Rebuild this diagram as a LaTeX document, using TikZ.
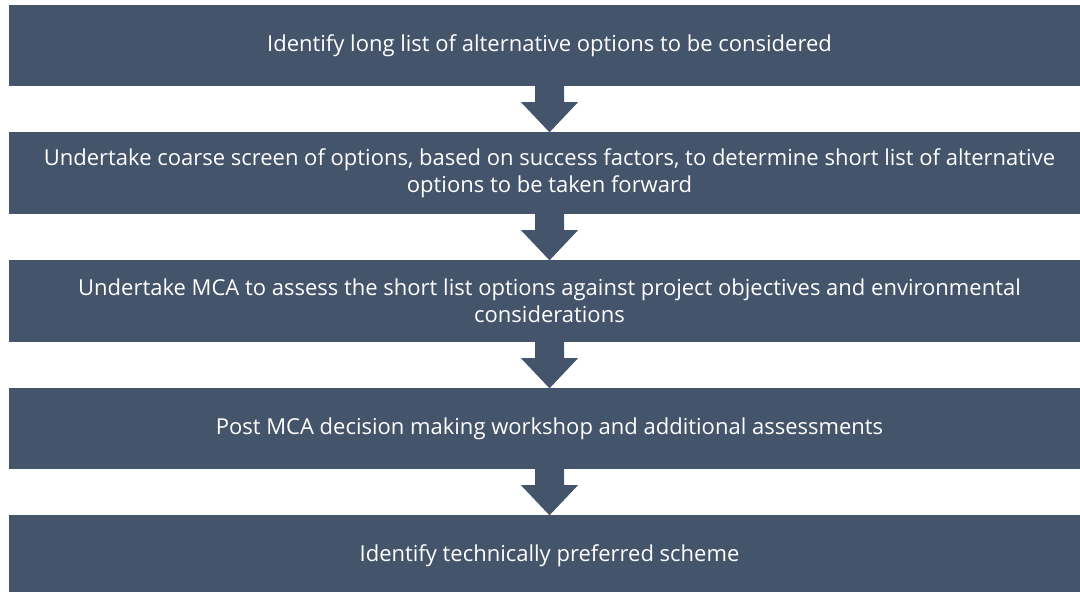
\documentclass[tikz,border=0pt]{standalone}
\usepackage{fontspec}
\setmainfont{Open Sans}
\usetikzlibrary{calc}
\definecolor{stepblue}{HTML}{44546A}
\tikzset{
  stepbox/.style={rectangle, fill=stepblue, text=white, minimum width=1081pt,
    minimum height=82pt, inner sep=0pt, align=center,
    font=\fontsize{22}{27}\selectfont},
  flowarrow/.style={fill=stepblue}
}
% block arrow from the bottom of one box to the top of the next
\newcommand\stepdownarrow[2]{%
  \fill[flowarrow] ($(#1.south)+(-14.5,-2)$) -- ($(#1.south)+(-14.5,16)$)
    -- ($(#1.south)+(-28.5,16)$) -- ($(#2.north)+(0,0.5)$)
    -- ($(#1.south)+(28.5,16)$) -- ($(#1.south)+(14.5,16)$)
    -- ($(#1.south)+(14.5,-2)$) -- cycle;}
\begin{document}
\begin{tikzpicture}[x=1pt,y=-1pt]
\useasboundingbox (0,0) rectangle (1080,592);
\node[stepbox, minimum height=81pt] (s1) at (549.5,45.5) {Identify long list of alternative options to be considered};
\node[stepbox] (s2) at (549.5,173) {Undertake coarse screen of options, based on success factors, to determine short list of alternative\\options to be taken forward};
\node[stepbox] (s3) at (549.5,301) {Undertake MCA to assess the short list options against project objectives and environmental\\considerations};
\node[stepbox, minimum height=81pt] (s4) at (549.5,428.5) {Post MCA decision making workshop and additional assessments};
\node[stepbox] (s5) at (549.5,556) {Identify technically preferred scheme};
\stepdownarrow{s1}{s2}
\stepdownarrow{s2}{s3}
\stepdownarrow{s3}{s4}
\stepdownarrow{s4}{s5}
\end{tikzpicture}
\end{document}
